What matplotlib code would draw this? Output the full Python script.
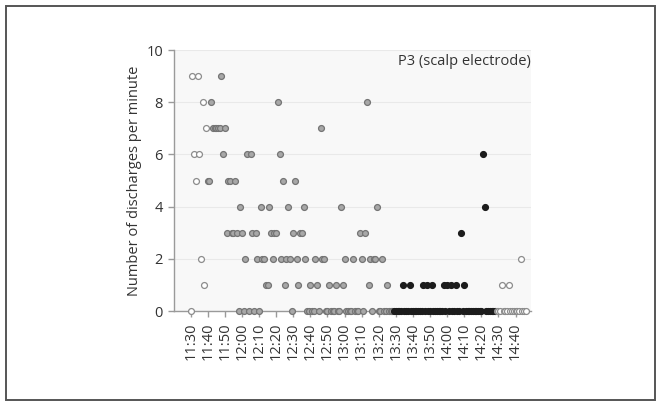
import numpy as np
import matplotlib.pyplot as plt
from matplotlib.patches import Rectangle

plt.rcParams['font.family'] = ['Open Sans', 'DejaVu Sans']

# discharges counted for every minute, starting at 11:30
start_time = "11:30"
counts = [
    0, 9, 6, 5, 9, 6, 2, 8, 1, 7,   # 11:30
    5, 5, 8, 7, 7, 7, 7, 7, 9, 6,   # 11:40
    7, 3, 5, 5, 3, 3, 5, 3, 0, 4,   # 11:50
    3, 0, 2, 6, 0, 6, 3, 0, 3, 2,   # 12:00
    0, 4, 2, 2, 1, 1, 4, 3, 2, 3,   # 12:10
    3, 8, 6, 2, 5, 1, 2, 4, 2, 0,   # 12:20
    3, 5, 2, 1, 3, 3, 4, 2, 0, 0,   # 12:30
    1, 0, 0, 2, 1, 0, 7, 2, 2, 0,   # 12:40
    0, 1, 0, 0, 0, 1, 0, 0, 4, 1,   # 12:50
    2, 0, 0, 0, 0, 2, 0, 0, 0, 3,   # 13:00
    2, 0, 3, 8, 1, 2, 0, 2, 2, 4,   # 13:10
    0, 0, 2, 0, 0, 1, 0, 0, 0, 0,   # 13:20
    0, 0, 0, 0, 1, 0, 0, 0, 1, 0,   # 13:30
    0, 0, 0, 0, 0, 0, 1, 0, 1, 0,   # 13:40
    0, 1, 0, 0, 0, 0, 0, 0, 1, 0,   # 13:50
    1, 0, 1, 0, 0, 1, 0, 0, 3, 0,   # 14:00
    1, 0, 0, 0, 0, 0, 0, 0, 0, 0,   # 14:10
    0, 6, 4, 0, 0, 0, 0, 0, 0, 0,   # 14:20
    0, 0, 1, 0, 0, 0, 1, 0, 0, 0,   # 14:30
    0, 0, 0, 2, 0, 0, 0,            # 14:40
]
tick_labels = ["11:30", "11:40", "11:50", "12:00", "12:10", "12:20", "12:30",
               "12:40", "12:50", "13:00", "13:10", "13:20", "13:30", "13:40",
               "13:50", "14:00", "14:10", "14:20", "14:30", "14:40"]
# marker shading changes at these times
phase_starts = ["11:30", "11:40", "13:29", "14:29"]
phase_kind = ["open", "grey", "black", "open"]


def to_min(t):
    h, m = t.split(":")
    return int(h) * 60 + int(m)


t0 = to_min(start_time)
minutes = np.arange(len(counts))
vals = np.array(counts)
bounds = [to_min(t) - t0 for t in phase_starts] + [len(counts)]

styles = {
    "open": dict(facecolor="white", edgecolor="#8c8c8c"),
    "grey": dict(facecolor="#a8a8a8", edgecolor="#747474"),
    "black": dict(facecolor="#1c1c1c", edgecolor="#1c1c1c"),
}

fig = plt.figure(figsize=(6.62, 4.04), dpi=100)
fig.patches.append(Rectangle((6 / 662, 1 - 400 / 404), 649 / 662, 394 / 404,
                             transform=fig.transFigure, fill=False,
                             edgecolor="#555555", linewidth=1.4))

ax = fig.add_axes([0.263, 0.230, 0.539, 0.646])
ax.set_facecolor("#f8f8f8")

for i, kind in enumerate(phase_kind):
    sel = (minutes >= bounds[i]) & (minutes < bounds[i + 1])
    ax.scatter(minutes[sel], vals[sel], s=18, linewidths=0.9,
               clip_on=False, zorder=3, **styles[kind])

ax.set_xlim(-9.7, 199)
ax.set_ylim(0, 10)
ax.set_yticks(range(0, 11, 2))
ax.set_xticks([to_min(t) - t0 for t in tick_labels])
ax.set_xticklabels(tick_labels, rotation=90)
ax.yaxis.grid(True, color="#e9e9e9", linewidth=0.8)
ax.set_axisbelow(True)

for side in ["top", "right"]:
    ax.spines[side].set_visible(False)
for side in ["left", "bottom"]:
    ax.spines[side].set_color("#9a9a9a")
    ax.spines[side].set_linewidth(1.0)
ax.tick_params(colors="#9a9a9a", labelcolor="#333333", labelsize=10.5,
               length=4, width=1.0, pad=4)

ax.set_ylabel("Number of discharges per minute", fontsize=10.5,
              color="#333333", labelpad=3)
ax.text(1.0, 0.985, "P3 (scalp electrode)", transform=ax.transAxes,
        ha="right", va="top", fontsize=10.5, color="#333333")

fig.savefig("out.png", dpi=100)
